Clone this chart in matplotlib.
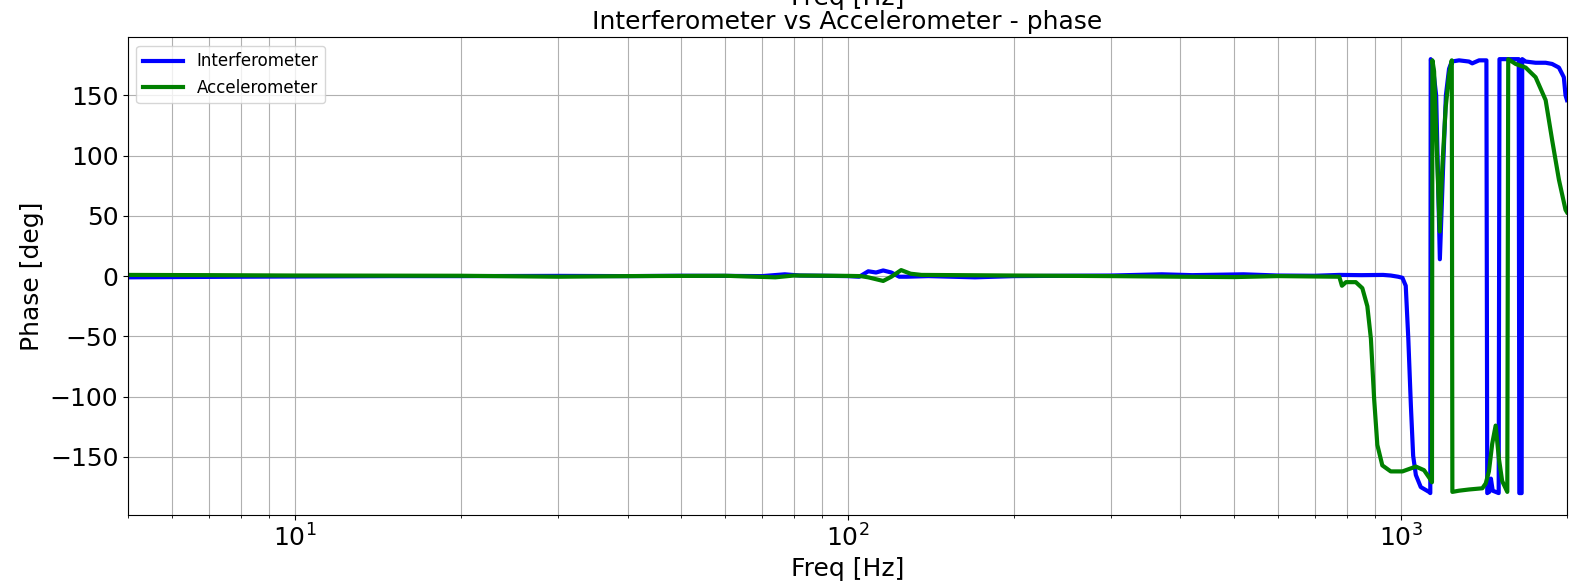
import numpy as np
from matplotlib import pyplot as plt

# Interferometer phase
freq_interf = [5, 6, 8, 10, 15, 20, 30, 40, 50, 60, 70, 77, 82, 90, 100,
               105, 109, 112.6, 116, 120, 124, 128, 140, 170, 200, 250, 300,
               370, 420, 520, 600, 700, 775, 850, 930, 960, 990,
               1008, 1022, 1033, 1044, 1054, 1066, 1088, 1126, 1132,
               1134, 1142, 1160, 1178, 1194, 1208, 1224, 1238, 1276, 1330,
               1348, 1387, 1430, 1435, 1447, 1457, 1468, 1505, 1510, 1560,
               1636, 1640, 1656, 1660, 1684, 1755, 1830, 1880, 1934, 1974,
               1988, 2000]
phase_interf = [-1, -0.8, -0.5, -0.3, 0, 0, 0.2, 0, 0.3, 0.2, 0, 1.5, 0.5, 0.3, 0,
                -0.5, 4, 3, 4.7, 3, -0.5, -0.5, 0, -1, 0, 0.3, 0.5,
                1.5, 0.8, 1.5, 0.5, 0.3, 1, 0.8, 1, 0.5, -0.5,
                -1.4, -8, -52, -107, -149, -165, -175, -179, -180,
                180, 177, 150, 14, 90, 150, 172, 178, 179, 178,
                176.5, 179, 179, -180, -179, -168, -178, -180, 180, 180,
                180, -180, -180, 180, 178, 177, 177, 176, 173, 165,
                150, 146]

# Accelerometer phase
freq_accel = [5, 7, 10, 20, 30, 40, 60, 74, 80, 100, 105.6, 109, 116, 120,
              125, 130, 136, 200, 300, 400, 500, 600, 700, 775, 783.5, 797,
              830, 853, 871, 884, 896, 908, 927, 960, 1008, 1066, 1103, 1130,
              1140, 1142, 1150, 1160, 1177.5, 1190, 1207, 1224, 1238,
              1241, 1276, 1330, 1406, 1426, 1445, 1465, 1486, 1507, 1527,
              1560, 1566, 1615, 1684, 1755, 1830, 1880, 1934, 1988, 2000]
phase_accel = [1, 0.8, 0.5, 0.3, -0.5, 0, 0.3, -1, 0.5, 0.2, 0, -1, -4, -0.5,
               5, 2, 1, 0.5, 0, -0.5, -0.8, 0, -0.3, -0.5, -8, -5,
               -5, -10, -25, -52, -102, -140, -157, -162, -162, -158, -161, -168,
               -171, 179, 170, 120, 37, 90, 140, 167, 179,
               -179, -178, -177, -176, -172, -162, -139, -124, -152, -170,
               -179, 180, 176, 173, 165, 146, 113, 80, 55, 53]

fig = plt.figure(figsize=(15.82, 5.85), dpi=100)
ax = fig.add_axes([0.081, 0.12, 0.9095, 0.816])

ax.semilogx(freq_interf, phase_interf, color='blue', linewidth=3, label='Interferometer')
ax.semilogx(freq_accel, phase_accel, color='green', linewidth=3, label='Accelerometer')

ax.set_xlim(5, 2000)
ax.grid(True, which='both')
ax.set_xlabel('Freq [Hz]', fontsize=18)
ax.set_ylabel('Phase [deg]', fontsize=18)
ax.set_title('Interferometer vs Accelerometer - phase', fontsize=18)
ax.tick_params(labelsize=18)
ax.legend(loc='upper left', fontsize=12, handlelength=2.4)

# xlabel of the plot above, cut off at the top edge
fig.text(0.5357, 0.9915, 'Freq [Hz]', fontsize=18, ha='center', va='baseline')

fig.savefig('out.png', dpi=100)
